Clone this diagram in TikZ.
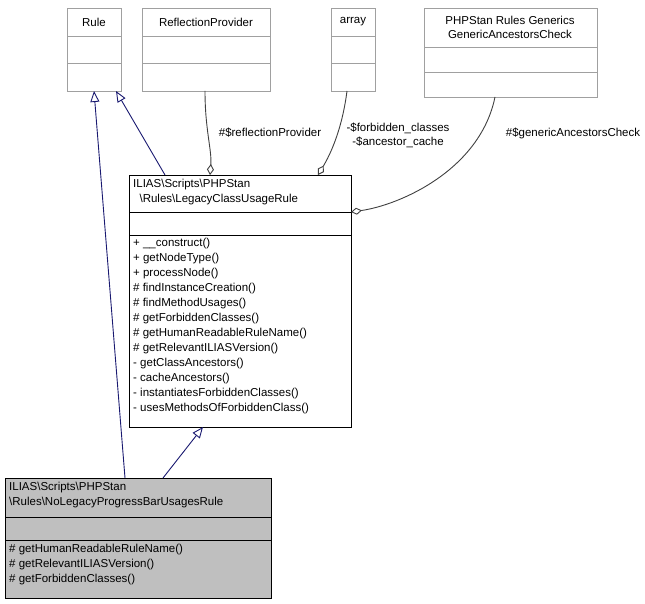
\documentclass[tikz,border=0pt]{standalone}
\usepackage{fontspec}
\setmainfont{Liberation Sans}
\usetikzlibrary{arrows.meta}
\definecolor{edgeblue}{HTML}{191970}
\definecolor{edgegray}{HTML}{404040}
\definecolor{boxgray}{HTML}{BFBFBF}
\definecolor{linegray}{HTML}{A0A0A0}
\tikzset{
  box/.style={draw, anchor=north west, inner sep=0pt},
  ext box/.style={box, draw=linegray, fill=white},
  txt/.style={anchor=north west, inner sep=0pt, align=left, font=\fontsize{11.5}{15}\selectfont},
  ctxt/.style={inner sep=0pt, align=center, font=\fontsize{11.5}{14}\selectfont},
  inherit/.style={edgeblue, line width=0.9, -{Triangle[open,length=11,width=9]}},
  member/.style={edgegray, line width=0.9, -{Diamond[open,length=11,width=7]}}
}
\begin{document}
\begin{tikzpicture}[x=1pt,y=-1pt]
  \useasboundingbox (0,0) rectangle (645,604);
  % external classes
  \node[ext box, minimum width=54, minimum height=83] (rule) at (67,8) {};
  \draw[linegray] (67,36) -- (121,36) (67,63) -- (121,63);
  \node[ctxt] (ruleT) at (94,22) {Rule};

  \node[ext box, minimum width=128, minimum height=83] (refl) at (142,8) {};
  \draw[linegray] (142,36) -- (270,36) (142,63) -- (270,63);
  \node[ctxt] (reflT) at (206,22) {ReflectionProvider};

  \node[ext box, minimum width=44, minimum height=83] (arr) at (331,8) {};
  \draw[linegray] (331,36) -- (375,36) (331,63) -- (375,63);
  \node[ctxt] (arrT) at (353,22) {array};

  \node[ext box, minimum width=173, minimum height=89] (gen) at (424,8) {};
  \draw[linegray] (424,47) -- (597,47) (424,72) -- (597,72);
  \node[ctxt] (genT) at (510,27) {PHPStan Rules Generics\\GenericAncestorsCheck};

  % LegacyClassUsageRule
  \node[box, fill=white, minimum width=222, minimum height=252] (legacy) at (129,175) {};
  \draw (129,212) -- (351,212) (129,235) -- (351,235);
  \node[txt] (legacyT) at (133,179) {ILIAS\textbackslash Scripts\textbackslash PHPStan\\\ \ \textbackslash Rules\textbackslash LegacyClassUsageRule};
  \node[txt] (legacyM) at (133,238) {+ \_\_construct()\\+ getNodeType()\\+ processNode()\\\# findInstanceCreation()\\\# findMethodUsages()\\\# getForbiddenClasses()\\\# getHumanReadableRuleName()\\\# getRelevantILIASVersion()\\- getClassAncestors()\\- cacheAncestors()\\- instantiatesForbiddenClasses()\\- usesMethodsOfForbiddenClass()};

  % NoLegacyProgressBarUsagesRule
  \node[box, fill=boxgray, minimum width=266, minimum height=120] (nolegacy) at (5,478) {};
  \draw (5,517) -- (271,517) (5,540) -- (271,540);
  \node[txt] (nolegacyT) at (9,482) {ILIAS\textbackslash Scripts\textbackslash PHPStan\\\textbackslash Rules\textbackslash NoLegacyProgressBarUsagesRule};
  \node[txt] (nolegacyM) at (9,544) {\# getHumanReadableRuleName()\\\# getRelevantILIASVersion()\\\# getForbiddenClasses()};

  % connectors
  \coordinate (c1) at (125,478);
  \coordinate (c2) at (94,91);
  \coordinate (c3) at (165,175);
  \coordinate (c4) at (116,91);
  \coordinate (c5) at (163,478);
  \coordinate (c6) at (203,427);
  \draw[inherit] (c1) -- (c2);
  \draw[inherit] (c3) -- (c4);
  \draw[inherit] (c5) -- (c6);

  \coordinate (r1) at (205,91);
  \coordinate (r2) at (210,175);
  \draw[member] (r1) .. controls (205,130) and (212,150) .. (r2);
  \node[ctxt] (rL) at (270,133) {\#\$reflectionProvider};

  \coordinate (a1) at (347,91);
  \coordinate (a2) at (318,175);
  \draw[member] (a1) .. controls (342,130) and (330,155) .. (a2);
  \node[ctxt] (aL) at (398,135) {-\$forbidden\_classes\\-\$ancestor\_cache};

  \coordinate (g1) at (495,97);
  \coordinate (g2) at (351,212);
  \draw[member] (g1) .. controls (480,170) and (400,205) .. (g2);
  \node[ctxt] (gL) at (573,133) {\#\$genericAncestorsCheck};
\end{tikzpicture}
\end{document}
